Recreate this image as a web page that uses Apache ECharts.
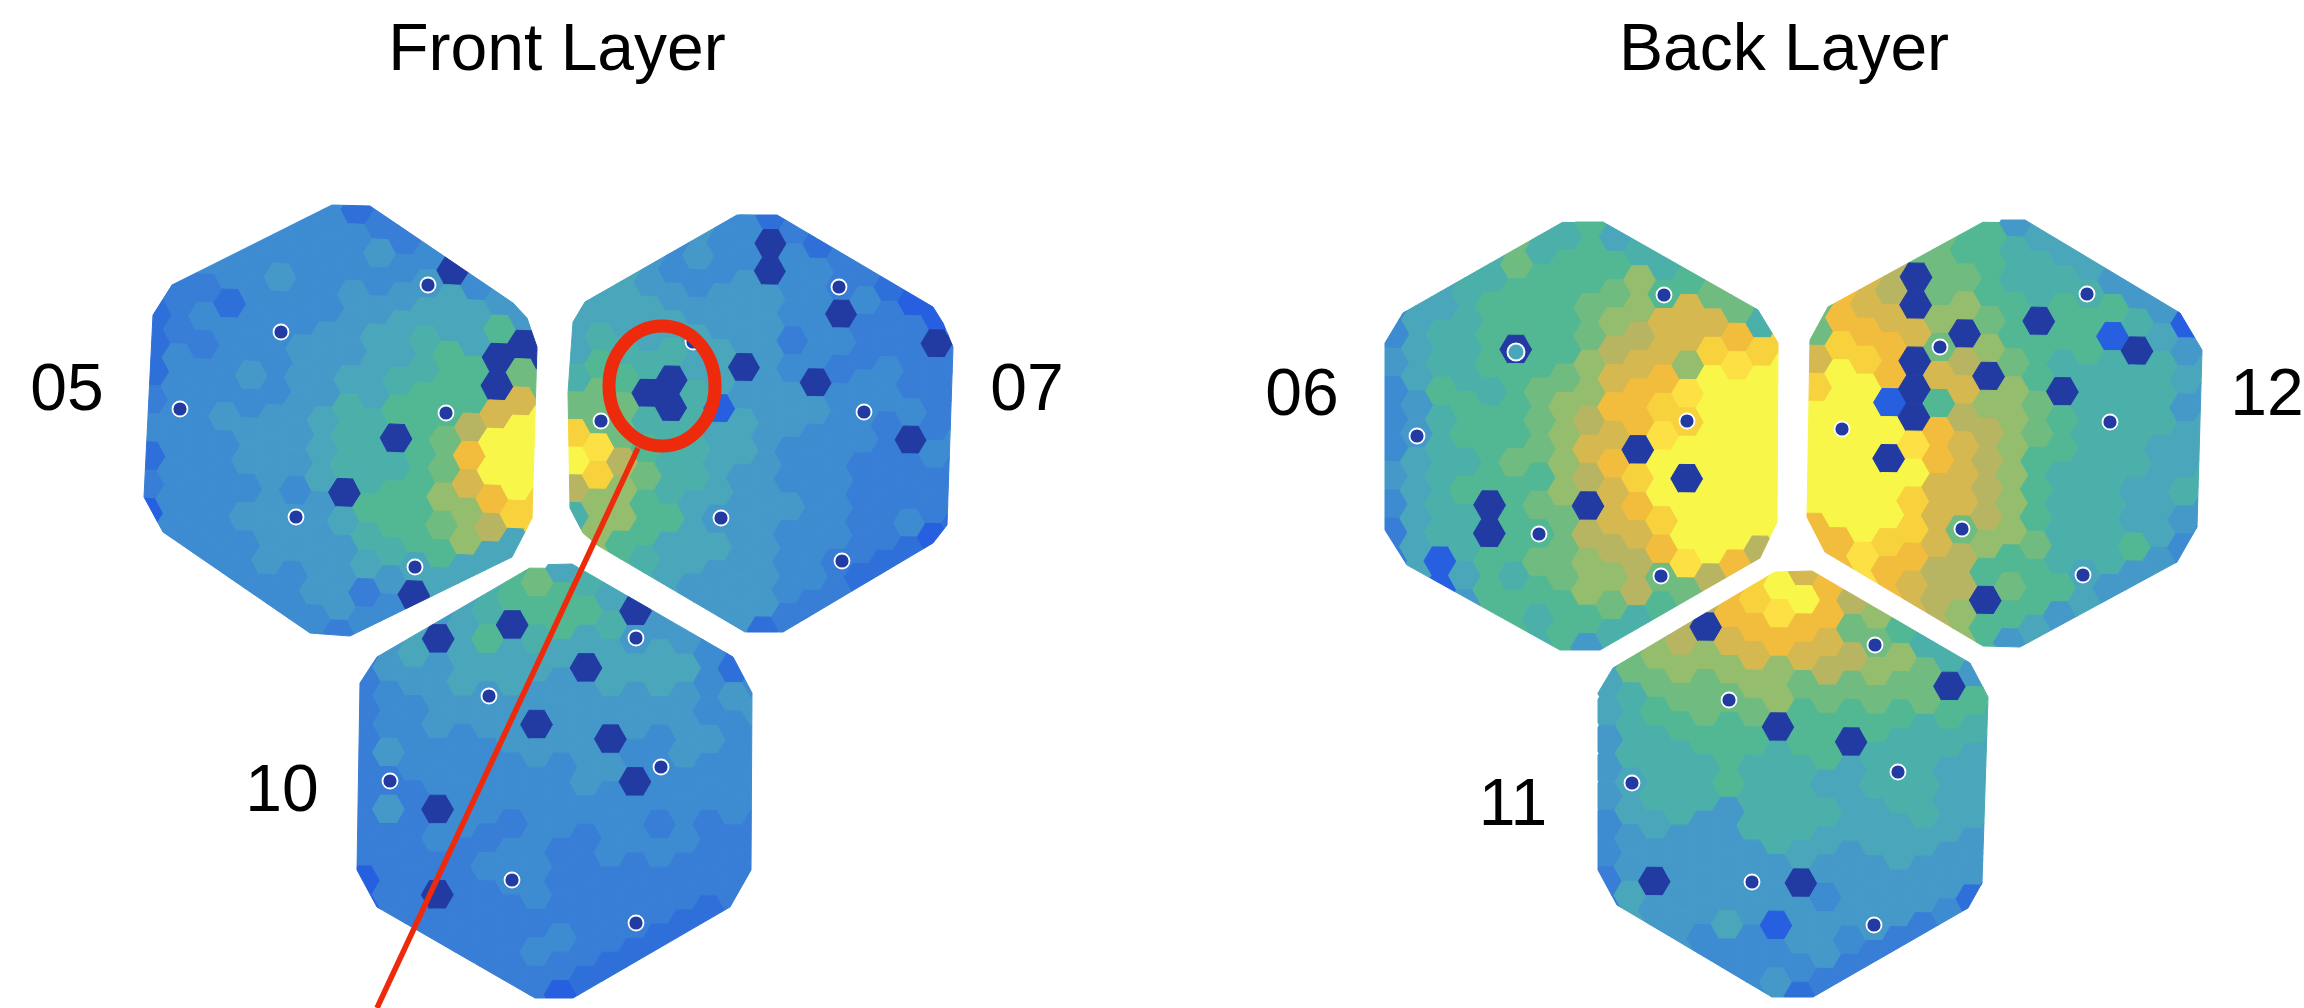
<!DOCTYPE html>
<html>
<head>
<meta charset="utf-8">
<style>html,body{margin:0;background:#fff}#c{width:2304px;height:1008px}</style>
<script src="https://cdn.jsdelivr.net/npm/echarts@6/dist/echarts.min.js"></script>
</head>
<body>
<div id="c"></div>
<script>
const _ = null;
// occupancy level per hex cell, column by column, top to bottom (0 = dead cell)
const m05 = [
  [_,_,_,3,3,2,2,2,3,4,2,3,1,1,1],
  [_,_,3,3,3,3,4,4,4,4,4,4,4,4,4],
  [_,_,4,4,3,4,3,4,4,4,4,4,4,4,4,4],
  [_,4,4,4,2,4,4,4,5,4,4,4,4,4,4,4],
  [_,4,4,4,4,4,4,5,4,5,5,4,5,4,4,4,4],
  [4,4,4,5,4,4,4,4,5,5,5,5,5,5,4,4,4],
  [4,4,4,4,4,4,5,5,5,5,5,4,5,5,4,4,4],
  [4,4,4,4,4,5,5,5,6,6,6,5,5,5,5,4,4],
  [2,2,4,4,5,5,5,6,7,7,7,0,6,5,5,5,3],
  [3,3,5,4,5,6,6,6,7,7,7,8,7,6,3,4,4],
  [3,3,3,4,5,6,6,7,8,0,7,8,8,7,5,4,4],
  [_,4,4,5,6,7,7,8,8,8,8,8,8,6,0,4,4],
  [_,4,4,0,6,6,8,8,8,9,9,10,9,8,6,6,6],
  [_,_,4,4,6,6,8,8,11,13,12,10,10,6,6,6],
  [_,_,5,5,5,8,0,0,12,16,16,13,11,6,6,6],
  [_,_,_,5,5,0,9,12,16,16,16,14,6,6,6],
  [_,_,_,5,5,5,0,9,16,16,16,14,14,6,6]
];
const m07 = [
  [_,_,_,6,6,6,6,7,9,14,16,11,7,7,7],
  [_,_,6,6,6,7,8,9,9,15,14,10,10,10,10],
  [_,_,6,6,6,6,7,8,9,9,11,10,10,8,8,8],
  [_,5,5,5,6,6,7,0,7,8,9,8,8,7,7,7],
  [_,4,4,4,5,6,7,0,0,7,7,7,8,6,6,6,6],
  [5,5,5,4,5,6,6,7,7,7,7,6,6,6,5,5,5],
  [4,4,4,4,5,5,6,6,1,6,6,6,5,6,5,5,5],
  [4,4,4,5,5,5,0,5,6,6,5,5,5,5,5,5,5],
  [2,2,0,0,5,5,5,5,5,5,5,5,5,5,5,5,2],
  [3,3,4,4,4,3,4,5,5,4,4,5,4,4,4,3,3],
  [_,2,2,4,4,4,4,0,5,4,4,4,4,4,4,3,3],
  [_,3,3,3,0,4,3,4,4,4,4,4,4,3,3,3,3],
  [_,3,3,3,4,3,3,4,4,4,3,3,3,3,2,2,2],
  [_,_,2,2,3,3,4,4,3,3,3,3,3,2,2,2],
  [_,_,1,1,1,3,3,3,4,0,3,3,4,2,2,2],
  [_,_,_,1,1,0,3,3,3,4,3,3,1,1,1],
  [_,_,_,_,3,3,3,3,3,4,3,3,2,2,2]
];
const m10 = [
  [_,_,3,3,3,3,3,3,3,3,3,1,1,1],
  [_,_,5,5,4,4,5,3,5,3,3,3,3,3],
  [_,_,6,6,5,4,4,4,3,3,3,3,3,3,3],
  [_,5,0,5,5,5,4,4,0,4,3,0,3,3,3],
  [_,6,6,6,6,5,4,4,4,4,3,3,3,3,3,3],
  [7,7,8,6,5,5,4,4,4,3,4,3,3,3,3,3],
  [8,8,0,6,6,5,5,4,4,3,4,4,3,3,3,3,3],
  [9,8,7,6,5,0,5,4,4,4,4,4,3,4,3,3,3],
  [6,8,8,6,5,5,5,4,4,4,3,3,3,4,3,1,1],
  [7,8,6,0,5,5,5,5,4,3,3,3,3,3,2,2,2],
  [6,6,7,6,6,5,0,5,4,4,4,3,3,3,2,2],
  [5,0,5,6,5,5,4,0,4,4,3,3,3,2,2,2],
  [5,5,5,6,6,5,4,4,4,3,4,3,3,2,2],
  [_,5,5,6,5,5,5,4,4,4,3,3,2,2,2],
  [_,4,4,4,4,4,5,4,4,3,3,3,2,2,2],
  [_,2,2,2,5,4,4,4,4,3,3,3,3,3],
  [_,_,4,4,4,5,4,4,4,3,3,3,3,3]
];
const m06 = [
  [_,_,_,4,4,5,4,4,4,5,4,3,3,3],
  [_,_,6,6,6,6,5,5,6,6,6,6,6,6],
  [_,_,6,6,7,7,8,7,7,7,7,7,1,1,1],
  [_,7,7,7,7,7,8,8,7,8,7,7,6,5,5],
  [_,7,7,8,8,8,7,8,8,8,0,0,8,8,8,8],
  [9,9,8,8,0,8,8,8,9,8,8,8,7,8,8,8],
  [7,7,8,8,8,8,9,9,9,8,9,8,9,8,7,7,7],
  [7,8,8,8,8,9,10,10,10,10,9,9,9,8,8,8,8],
  [8,8,8,9,9,10,10,11,12,11,0,11,10,10,8,5,5],
  [6,8,9,10,11,12,13,12,13,12,12,11,10,9,7,7,7],
  [7,7,10,10,11,12,13,13,0,14,13,12,11,11,7,7],
  [7,7,8,12,12,13,14,15,16,16,14,13,9,8,8,8],
  [_,8,8,12,12,10,15,14,16,0,16,16,15,9,9,9],
  [_,9,9,12,14,16,16,16,16,16,16,16,11,11,11],
  [_,_,9,9,13,15,16,16,16,16,16,16,13,13,13],
  [_,_,7,7,14,16,16,16,16,16,16,11,11,11],
  [_,_,_,14,14,16,16,16,16,16,16,16,11,11]
];
const m12 = [
  [_,_,_,9,9,12,14,16,16,16,16,13,13,13],
  [_,_,13,13,14,16,16,16,16,16,16,13,13,13],
  [_,_,12,12,13,14,16,16,16,16,16,16,15,15,15],
  [_,11,11,12,13,13,1,16,0,16,16,14,13,13,13],
  [_,9,0,0,12,0,0,0,15,16,14,14,13,12,12,12],
  [9,9,9,10,9,12,8,13,13,12,12,12,11,11,11,11],
  [8,8,9,10,0,11,12,11,12,12,12,9,11,11,10,10,10],
  [8,8,8,9,10,0,10,11,11,11,11,10,8,0,8,8],
  [5,7,7,8,8,9,10,10,10,10,10,10,8,9,8,5,5],
  [6,7,7,0,8,8,9,9,8,8,8,9,8,8,6,6,6],
  [6,6,7,8,8,7,0,8,8,7,7,7,7,8,5,5],
  [6,6,7,8,8,7,7,7,7,7,7,7,6,6,6,6],
  [_,5,5,8,1,7,7,7,7,7,7,7,7,5,5],
  [_,5,5,7,0,7,7,7,7,6,6,8,5,5,5],
  [_,_,5,5,6,7,7,7,6,6,6,6,5,5,5],
  [_,_,1,1,5,6,5,6,6,7,5,4,4,4],
  [_,_,_,1,5,6,5,6,6,7,5,4,4,4]
];
const m11 = [
  [_,_,_,6,6,6,5,5,5,4,4,3,3,3],
  [_,_,9,9,7,7,7,6,6,5,5,6,6,6],
  [_,_,10,10,9,8,7,7,7,6,5,0,5,5,5],
  [_,11,11,10,9,8,7,7,7,5,5,5,5,5,5],
  [_,11,0,10,9,9,8,7,7,5,5,5,5,4,4,4],
  [13,13,12,10,9,8,8,8,5,5,5,5,6,4,4,4],
  [14,14,13,12,10,9,8,7,7,7,5,5,5,4,4,4,4],
  [16,15,13,10,10,0,7,7,7,7,5,5,1,4,5,5],
  [12,16,13,12,9,8,8,7,7,7,6,0,5,5,4,2,2],
  [13,13,12,11,9,8,8,6,7,6,5,4,5,5,3,3],
  [11,11,9,11,9,8,0,6,6,6,5,5,5,4,3,3],
  [10,10,9,10,9,8,7,7,6,6,5,5,5,3,3,3],
  [_,8,8,10,9,8,7,7,7,6,6,5,5,3,3],
  [_,7,7,9,9,7,7,7,7,6,5,5,3,3,3],
  [_,_,7,7,0,8,7,6,6,6,5,5,4,4,4],
  [_,_,5,5,8,7,6,6,6,5,5,2,2,2],
  [_,_,_,5,8,7,6,6,6,5,5,2,2,2]
];

// calibration cells
const pins05 = [[281,332],[428,285],[180,409],[446,413],[296,517],[415,567]];
const pins07 = [[693,342],[839,287],[601,421],[864,412],[721,518],[842,561]];
const pins10 = [[489,696],[636,638],[390,781],[661,767],[512,880],[636,923]];
const pins06 = [[1417,436],[1664,295],[1687,421],[1539,534],[1661,576]];
const pins12 = [[1940,347],[2087,294],[1842,429],[2110,422],[1962,529],[2083,575]];
const pins11 = [[1729,700],[1875,645],[1632,783],[1898,772],[1752,882],[1874,925]];
const hollowPin = [[1516,352]];

const levelColors = ["#213ba3","#2660e0","#2f6fd9","#387dd6","#3d8bd1","#4599c9","#4aa6bb","#4cb0aa","#52b893",
  "#6fbb80","#95bd6e","#b8b562","#d6b850","#f2bd3c","#f8d23c","#fde044","#f8f749"];

// layout of each module: col0/row0 origin, col step u, row step v, outline
const layout = [
  { id: "05", m: m05, o: [162, 173], u: [24.58, 1.07], v: [-1.25, 28.3],
    out: [[332,205],[370,206],[513,303],[527,318],[537,347],[532,518],[512,557],[350,636],[310,633],[163,532],[144,497],[153,315],[172,285]] },
  { id: "07", m: m07, o: [580, 184.3], u: [24, 0.48], v: [-0.55, 27.67],
    out: [[737,215],[777,215],[933,307],[943,323],[953,347],[947,525],[933,543],[783,632],[745,632],[597,545],[583,533],[570,508],[568,393],[573,322],[585,302]] },
  { id: "10", m: m10, o: [365, 567.5], u: [24.65, 0.1], v: [-0.1, 28.43],
    out: [[535,565],[572,564],[733,657],[752,693],[751,870],[730,907],[573,998],[535,998],[377,907],[357,870],[360,683],[377,657]] },
  { id: "06", m: m06, o: [1394.5, 220.7], u: [24.6, 0.25], v: [-0.28, 28.33],
    out: [[1563,222],[1603,222],[1758,310],[1778,343],[1777,522],[1760,558],[1600,650],[1560,650],[1407,565],[1385,530],[1385,343],[1403,313]] },
  { id: "12", m: m12, o: [1818.7, 219.3], u: [24.67, 0.44], v: [-0.42, 28],
    out: [[1987,220],[2025,220],[2180,313],[2202,350],[2197,527],[2177,562],[2020,647],[1983,646],[1825,552],[1807,517],[1810,340],[1828,307]] },
  { id: "11", m: m11, o: [1609, 569.3], u: [24.43, 0.27], v: [-0.28, 28.33],
    out: [[1775,572],[1812,571],[1970,663],[1988,697],[1982,883],[1968,908],[1813,997],[1772,997],[1617,905],[1598,870],[1598,693],[1613,668]] }
];

const labelNames = ["05", "07", "10", "06", "12", "11"];
const labelPos = [[67,392],[1027,392],[282,793],[1302,397],[2267,397],[1513,807]];
const pins = [...pins05, ...pins07, ...pins10, ...pins06, ...pins12, ...pins11];
const leaderLine = [[638,448],[377,1008]];

const cells = [];
layout.forEach((mod, mi) => {
  mod.m.forEach((col, c) => col.forEach((val, r) => {
    if (val === null) return;
    const rr = r + (c % 2 ? 0.5 : 0);
    cells.push([mod.o[0] + c * mod.u[0] + rr * mod.v[0], mod.o[1] + c * mod.u[1] + rr * mod.v[1], val, mi]);
  }));
});

// convex clip of a cell polygon against the module outline
function clipPoly(poly, outline) {
  let res = poly;
  for (let i = 0; i < outline.length && res.length; i++) {
    const a = outline[i], b = outline[(i + 1) % outline.length];
    const side = (p) => (b[0] - a[0]) * (p[1] - a[1]) - (b[1] - a[1]) * (p[0] - a[0]);
    const next = [];
    res.forEach((p, j) => {
      const q = res[(j + 1) % res.length];
      const sp = side(p), sq = side(q);
      if (sp >= 0) next.push(p);
      if ((sp >= 0) !== (sq >= 0)) {
        const t = sp / (sp - sq);
        next.push([p[0] + t * (q[0] - p[0]), p[1] + t * (q[1] - p[1])]);
      }
    });
    res = next;
  }
  return res;
}

function renderCell(params, api) {
  const mod = layout[api.value(3)];
  const x = api.value(0), y = api.value(1);
  const ux = mod.u[0] / 1.5 / 2, vy = mod.v[1] / 2;
  const cs = mod.u[1] / mod.u[0];
  const pt = (dx, dy) => [x + dx - dy * cs, y + dy + dx * cs];
  const hex = [pt(-2 * ux, 0), pt(-ux, -vy), pt(ux, -vy), pt(2 * ux, 0), pt(ux, vy), pt(-ux, vy)];
  const clipped = clipPoly(hex, mod.out);
  if (clipped.length < 3) return;
  const color = api.visual("color");
  return {
    type: "polygon",
    shape: { points: clipped.map((p) => api.coord(p)) },
    style: { fill: color, stroke: color, lineWidth: 1 },
    silent: true
  };
}

const chart = echarts.init(document.getElementById("c"), null, { renderer: "canvas" });
const FONT = '"Liberation Sans", Arial, sans-serif';
chart.setOption({
  animation: false,
  backgroundColor: "#fff",
  grid: { left: 0, right: 0, top: 0, bottom: 0 },
  xAxis: { type: "value", min: 0, max: 2304, show: false },
  yAxis: { type: "value", min: 0, max: 1008, inverse: true, show: false },
  title: [
    { text: "Front Layer", left: 552, top: 47, textAlign: "center", textVerticalAlign: "middle",
      textStyle: { fontFamily: FONT, fontSize: 66, fontWeight: "normal", color: "#000" } },
    { text: "Back Layer", left: 1779, top: 47, textAlign: "center", textVerticalAlign: "middle",
      textStyle: { fontFamily: FONT, fontSize: 66, fontWeight: "normal", color: "#000" } }
  ],
  visualMap: { show: false, seriesIndex: 0, dimension: 2, min: 0, max: 16, inRange: { color: levelColors } },
  series: [
    { type: "custom", data: cells, renderItem: renderCell, encode: { x: 0, y: 1 }, silent: true, z: 2 },
    { type: "scatter", data: pins, symbol: "circle", symbolSize: 15, silent: true, z: 3,
      itemStyle: { color: "#213ba3", borderColor: "#fff", borderWidth: 1.8, opacity: 1 } },
    { type: "scatter", data: hollowPin, symbol: "circle", symbolSize: 17, silent: true, z: 3,
      itemStyle: { color: "#4aa6bb", borderColor: "#fff", borderWidth: 2, opacity: 1 } },
    { type: "scatter", data: labelPos.map((p, i) => ({ value: p, name: labelNames[i] })), symbolSize: 0, silent: true, z: 4,
      itemStyle: { opacity: 1 },
      label: { show: true, position: "inside", formatter: "{b}", fontFamily: FONT, fontSize: 66, color: "#000", opacity: 1 } },
    { type: "line", data: leaderLine, showSymbol: false, silent: true, z: 5,
      lineStyle: { color: "#ee2a0c", width: 5.5 } }
  ],
  graphic: [
    { type: "ellipse", z: 100, silent: true, shape: { cx: 662, cy: 386, rx: 53, ry: 60 },
      style: { fill: null, stroke: "#ee2a0c", lineWidth: 13 } }
  ]
});
</script>
</body>
</html>
